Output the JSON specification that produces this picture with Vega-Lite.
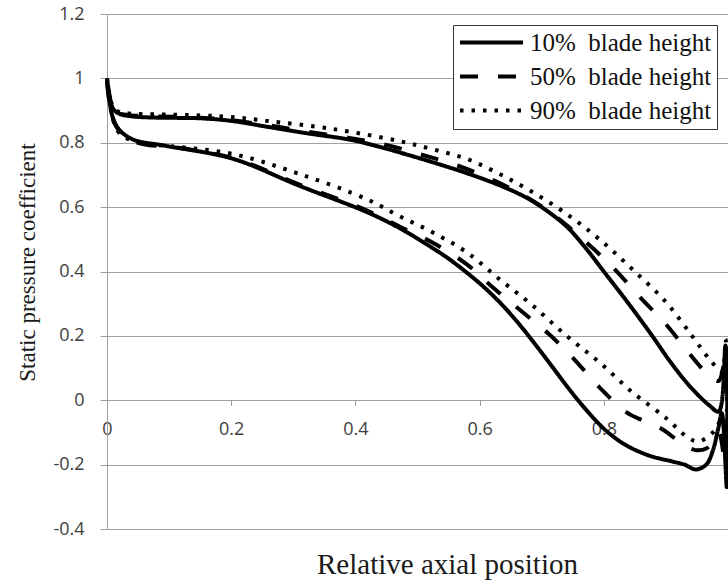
{
  "$schema": "https://vega.github.io/schema/vega-lite/v6.json",
  "width": 621,
  "height": 515,
  "autosize": "none",
  "padding": {"left": 107, "top": 14, "right": 0, "bottom": 53},
  "background": "white",
  "config": {"view": {"stroke": null}},
  "data": {"values": [
    {"s": "10%  blade height", "i": 0, "x": 0, "y": 1.0},
    {"s": "10%  blade height", "i": 1, "x": 0.004, "y": 0.95},
    {"s": "10%  blade height", "i": 2, "x": 0.01, "y": 0.905},
    {"s": "10%  blade height", "i": 3, "x": 0.02, "y": 0.89},
    {"s": "10%  blade height", "i": 4, "x": 0.04, "y": 0.882},
    {"s": "10%  blade height", "i": 5, "x": 0.08, "y": 0.878},
    {"s": "10%  blade height", "i": 6, "x": 0.15, "y": 0.876},
    {"s": "10%  blade height", "i": 7, "x": 0.2, "y": 0.868},
    {"s": "10%  blade height", "i": 8, "x": 0.257, "y": 0.85},
    {"s": "10%  blade height", "i": 9, "x": 0.32, "y": 0.83},
    {"s": "10%  blade height", "i": 10, "x": 0.39, "y": 0.81},
    {"s": "10%  blade height", "i": 11, "x": 0.43, "y": 0.792},
    {"s": "10%  blade height", "i": 12, "x": 0.471, "y": 0.77},
    {"s": "10%  blade height", "i": 13, "x": 0.52, "y": 0.742},
    {"s": "10%  blade height", "i": 14, "x": 0.58, "y": 0.705},
    {"s": "10%  blade height", "i": 15, "x": 0.632, "y": 0.668},
    {"s": "10%  blade height", "i": 16, "x": 0.675, "y": 0.63},
    {"s": "10%  blade height", "i": 17, "x": 0.7, "y": 0.6},
    {"s": "10%  blade height", "i": 18, "x": 0.74, "y": 0.54},
    {"s": "10%  blade height", "i": 19, "x": 0.77, "y": 0.475},
    {"s": "10%  blade height", "i": 20, "x": 0.8, "y": 0.4},
    {"s": "10%  blade height", "i": 21, "x": 0.84, "y": 0.3},
    {"s": "10%  blade height", "i": 22, "x": 0.878, "y": 0.2},
    {"s": "10%  blade height", "i": 23, "x": 0.905, "y": 0.125},
    {"s": "10%  blade height", "i": 24, "x": 0.932, "y": 0.058},
    {"s": "10%  blade height", "i": 25, "x": 0.953, "y": 0.014},
    {"s": "10%  blade height", "i": 26, "x": 0.97, "y": -0.016},
    {"s": "10%  blade height", "i": 27, "x": 0.985, "y": -0.035},
    {"s": "10%  blade height", "i": 28, "x": 0.996, "y": 0.17},
    {"s": "10%  blade height", "i": 29, "x": 0.998, "y": -0.27},
    {"s": "10%  blade height", "i": 30, "x": 0.99, "y": -0.04},
    {"s": "10%  blade height", "i": 31, "x": 0.984, "y": -0.09},
    {"s": "10%  blade height", "i": 32, "x": 0.975, "y": -0.16},
    {"s": "10%  blade height", "i": 33, "x": 0.965, "y": -0.2},
    {"s": "10%  blade height", "i": 34, "x": 0.948, "y": -0.215},
    {"s": "10%  blade height", "i": 35, "x": 0.93, "y": -0.2},
    {"s": "10%  blade height", "i": 36, "x": 0.91, "y": -0.19},
    {"s": "10%  blade height", "i": 37, "x": 0.873, "y": -0.172},
    {"s": "10%  blade height", "i": 38, "x": 0.836, "y": -0.14},
    {"s": "10%  blade height", "i": 39, "x": 0.81, "y": -0.105},
    {"s": "10%  blade height", "i": 40, "x": 0.793, "y": -0.075},
    {"s": "10%  blade height", "i": 41, "x": 0.765, "y": -0.015},
    {"s": "10%  blade height", "i": 42, "x": 0.74, "y": 0.045},
    {"s": "10%  blade height", "i": 43, "x": 0.712, "y": 0.117},
    {"s": "10%  blade height", "i": 44, "x": 0.685, "y": 0.185},
    {"s": "10%  blade height", "i": 45, "x": 0.66, "y": 0.245},
    {"s": "10%  blade height", "i": 46, "x": 0.632, "y": 0.305},
    {"s": "10%  blade height", "i": 47, "x": 0.605, "y": 0.355},
    {"s": "10%  blade height", "i": 48, "x": 0.579, "y": 0.397},
    {"s": "10%  blade height", "i": 49, "x": 0.55, "y": 0.44},
    {"s": "10%  blade height", "i": 50, "x": 0.52, "y": 0.478},
    {"s": "10%  blade height", "i": 51, "x": 0.471, "y": 0.535},
    {"s": "10%  blade height", "i": 52, "x": 0.418, "y": 0.585},
    {"s": "10%  blade height", "i": 53, "x": 0.31, "y": 0.666},
    {"s": "10%  blade height", "i": 54, "x": 0.203, "y": 0.75},
    {"s": "10%  blade height", "i": 55, "x": 0.096, "y": 0.79},
    {"s": "10%  blade height", "i": 56, "x": 0.042, "y": 0.81},
    {"s": "10%  blade height", "i": 57, "x": 0.02, "y": 0.84},
    {"s": "10%  blade height", "i": 58, "x": 0.01, "y": 0.875},
    {"s": "10%  blade height", "i": 59, "x": 0.004, "y": 0.93},
    {"s": "10%  blade height", "i": 60, "x": 0, "y": 1.0},

    {"s": "50%  blade height", "i": 0, "x": 0, "y": 0.99},
    {"s": "50%  blade height", "i": 1, "x": 0.004, "y": 0.93},
    {"s": "50%  blade height", "i": 2, "x": 0.01, "y": 0.9},
    {"s": "50%  blade height", "i": 3, "x": 0.02, "y": 0.89},
    {"s": "50%  blade height", "i": 4, "x": 0.04, "y": 0.885},
    {"s": "50%  blade height", "i": 5, "x": 0.08, "y": 0.882},
    {"s": "50%  blade height", "i": 6, "x": 0.15, "y": 0.878},
    {"s": "50%  blade height", "i": 7, "x": 0.2, "y": 0.87},
    {"s": "50%  blade height", "i": 8, "x": 0.257, "y": 0.855},
    {"s": "50%  blade height", "i": 9, "x": 0.32, "y": 0.835},
    {"s": "50%  blade height", "i": 10, "x": 0.39, "y": 0.815},
    {"s": "50%  blade height", "i": 11, "x": 0.444, "y": 0.796},
    {"s": "50%  blade height", "i": 12, "x": 0.503, "y": 0.765},
    {"s": "50%  blade height", "i": 13, "x": 0.563, "y": 0.73},
    {"s": "50%  blade height", "i": 14, "x": 0.621, "y": 0.685},
    {"s": "50%  blade height", "i": 15, "x": 0.675, "y": 0.632},
    {"s": "50%  blade height", "i": 16, "x": 0.723, "y": 0.57},
    {"s": "50%  blade height", "i": 17, "x": 0.772, "y": 0.49},
    {"s": "50%  blade height", "i": 18, "x": 0.814, "y": 0.414},
    {"s": "50%  blade height", "i": 19, "x": 0.857, "y": 0.323},
    {"s": "50%  blade height", "i": 20, "x": 0.9, "y": 0.236},
    {"s": "50%  blade height", "i": 21, "x": 0.932, "y": 0.159},
    {"s": "50%  blade height", "i": 22, "x": 0.955, "y": 0.105},
    {"s": "50%  blade height", "i": 23, "x": 0.97, "y": 0.075},
    {"s": "50%  blade height", "i": 24, "x": 0.985, "y": 0.06},
    {"s": "50%  blade height", "i": 25, "x": 0.995, "y": 0.12},
    {"s": "50%  blade height", "i": 26, "x": 0.997, "y": -0.22},
    {"s": "50%  blade height", "i": 27, "x": 0.985, "y": -0.1},
    {"s": "50%  blade height", "i": 28, "x": 0.975, "y": -0.13},
    {"s": "50%  blade height", "i": 29, "x": 0.965, "y": -0.15},
    {"s": "50%  blade height", "i": 30, "x": 0.948, "y": -0.155},
    {"s": "50%  blade height", "i": 31, "x": 0.93, "y": -0.14},
    {"s": "50%  blade height", "i": 32, "x": 0.894, "y": -0.09},
    {"s": "50%  blade height", "i": 33, "x": 0.865, "y": -0.065},
    {"s": "50%  blade height", "i": 34, "x": 0.836, "y": -0.037},
    {"s": "50%  blade height", "i": 35, "x": 0.793, "y": 0.04},
    {"s": "50%  blade height", "i": 36, "x": 0.752, "y": 0.128},
    {"s": "50%  blade height", "i": 37, "x": 0.712, "y": 0.205},
    {"s": "50%  blade height", "i": 38, "x": 0.669, "y": 0.274},
    {"s": "50%  blade height", "i": 39, "x": 0.621, "y": 0.351},
    {"s": "50%  blade height", "i": 40, "x": 0.579, "y": 0.423},
    {"s": "50%  blade height", "i": 41, "x": 0.524, "y": 0.49},
    {"s": "50%  blade height", "i": 42, "x": 0.471, "y": 0.54},
    {"s": "50%  blade height", "i": 43, "x": 0.418, "y": 0.59},
    {"s": "50%  blade height", "i": 44, "x": 0.31, "y": 0.67},
    {"s": "50%  blade height", "i": 45, "x": 0.203, "y": 0.752},
    {"s": "50%  blade height", "i": 46, "x": 0.1, "y": 0.788},
    {"s": "50%  blade height", "i": 47, "x": 0.06, "y": 0.795},
    {"s": "50%  blade height", "i": 48, "x": 0.03, "y": 0.82},
    {"s": "50%  blade height", "i": 49, "x": 0.015, "y": 0.85},
    {"s": "50%  blade height", "i": 50, "x": 0.006, "y": 0.9},
    {"s": "50%  blade height", "i": 51, "x": 0, "y": 0.99},

    {"s": "90%  blade height", "i": 0, "x": 0, "y": 1.0},
    {"s": "90%  blade height", "i": 1, "x": 0.004, "y": 0.95},
    {"s": "90%  blade height", "i": 2, "x": 0.01, "y": 0.91},
    {"s": "90%  blade height", "i": 3, "x": 0.02, "y": 0.895},
    {"s": "90%  blade height", "i": 4, "x": 0.04, "y": 0.89},
    {"s": "90%  blade height", "i": 5, "x": 0.08, "y": 0.888},
    {"s": "90%  blade height", "i": 6, "x": 0.15, "y": 0.885},
    {"s": "90%  blade height", "i": 7, "x": 0.2, "y": 0.88},
    {"s": "90%  blade height", "i": 8, "x": 0.257, "y": 0.868},
    {"s": "90%  blade height", "i": 9, "x": 0.363, "y": 0.843},
    {"s": "90%  blade height", "i": 10, "x": 0.471, "y": 0.805},
    {"s": "90%  blade height", "i": 11, "x": 0.524, "y": 0.78},
    {"s": "90%  blade height", "i": 12, "x": 0.579, "y": 0.75},
    {"s": "90%  blade height", "i": 13, "x": 0.632, "y": 0.703},
    {"s": "90%  blade height", "i": 14, "x": 0.685, "y": 0.647},
    {"s": "90%  blade height", "i": 15, "x": 0.74, "y": 0.579},
    {"s": "90%  blade height", "i": 16, "x": 0.793, "y": 0.5},
    {"s": "90%  blade height", "i": 17, "x": 0.846, "y": 0.407},
    {"s": "90%  blade height", "i": 18, "x": 0.9, "y": 0.305},
    {"s": "90%  blade height", "i": 19, "x": 0.942, "y": 0.2},
    {"s": "90%  blade height", "i": 20, "x": 0.97, "y": 0.128},
    {"s": "90%  blade height", "i": 21, "x": 0.99, "y": 0.09},
    {"s": "90%  blade height", "i": 22, "x": 0.996, "y": 0.19},
    {"s": "90%  blade height", "i": 23, "x": 0.997, "y": -0.18},
    {"s": "90%  blade height", "i": 24, "x": 0.99, "y": -0.06},
    {"s": "90%  blade height", "i": 25, "x": 0.98, "y": -0.09},
    {"s": "90%  blade height", "i": 26, "x": 0.97, "y": -0.11},
    {"s": "90%  blade height", "i": 27, "x": 0.953, "y": -0.128},
    {"s": "90%  blade height", "i": 28, "x": 0.937, "y": -0.118},
    {"s": "90%  blade height", "i": 29, "x": 0.9, "y": -0.055},
    {"s": "90%  blade height", "i": 30, "x": 0.846, "y": 0.025},
    {"s": "90%  blade height", "i": 31, "x": 0.793, "y": 0.118},
    {"s": "90%  blade height", "i": 32, "x": 0.74, "y": 0.2},
    {"s": "90%  blade height", "i": 33, "x": 0.685, "y": 0.295},
    {"s": "90%  blade height", "i": 34, "x": 0.632, "y": 0.376},
    {"s": "90%  blade height", "i": 35, "x": 0.579, "y": 0.46},
    {"s": "90%  blade height", "i": 36, "x": 0.524, "y": 0.522},
    {"s": "90%  blade height", "i": 37, "x": 0.471, "y": 0.572},
    {"s": "90%  blade height", "i": 38, "x": 0.418, "y": 0.625},
    {"s": "90%  blade height", "i": 39, "x": 0.31, "y": 0.703},
    {"s": "90%  blade height", "i": 40, "x": 0.203, "y": 0.765},
    {"s": "90%  blade height", "i": 41, "x": 0.1, "y": 0.79},
    {"s": "90%  blade height", "i": 42, "x": 0.05, "y": 0.8},
    {"s": "90%  blade height", "i": 43, "x": 0.02, "y": 0.83},
    {"s": "90%  blade height", "i": 44, "x": 0.01, "y": 0.87},
    {"s": "90%  blade height", "i": 45, "x": 0.004, "y": 0.93},
    {"s": "90%  blade height", "i": 46, "x": 0, "y": 1.0}
  ]},
  "mark": {"type": "line", "color": "black", "strokeWidth": 4, "interpolate": "catmull-rom", "clip": false},
  "encoding": {
    "x": {
      "field": "x", "type": "quantitative",
      "scale": {"domain": [0, 1], "nice": false, "zero": false},
      "axis": {
        "title": "Relative axial position",
        "values": [0, 0.2, 0.4, 0.6, 0.8],
        "labelExpr": "'' + datum.value",
        "offset": -128.75,
        "domain": false,
        "grid": false,
        "ticks": true, "tickSize": 5, "tickColor": "#9a9a9a",
        "labelFont": "Open Sans", "labelFontSize": 18, "labelColor": "#404040",
        "labelPadding": 15, "labelOverlap": false, "labelFlush": false,
        "titleFont": "Liberation Serif", "titleFontSize": 29, "titleFontWeight": "normal", "titleColor": "#1a1a1a",
        "titleX": 340, "titleY": 150, "titleBaseline": "top"
      }
    },
    "y": {
      "field": "y", "type": "quantitative",
      "scale": {"domain": [-0.4, 1.2], "nice": false, "zero": false},
      "axis": {
        "title": "Static pressure coefficient",
        "values": [-0.4, -0.2, 0, 0.2, 0.4, 0.6, 0.8, 1, 1.2],
        "labelExpr": "'' + datum.value",
        "grid": true, "gridColor": "#a0a0a0", "gridWidth": 1,
        "domain": true, "domainColor": "#a0a0a0",
        "ticks": true, "tickSize": 7, "tickColor": "#a0a0a0",
        "labelFont": "Open Sans", "labelFontSize": 18, "labelColor": "#404040",
        "labelPadding": 16, "labelOverlap": false, "labelFlush": false,
        "titleFont": "Liberation Serif", "titleFontSize": 23, "titleFontWeight": "normal", "titleColor": "#1a1a1a",
        "titleX": -80, "titleY": 248, "titleAlign": "center", "titleBaseline": "middle", "titleAngle": 270
      }
    },
    "order": {"field": "i", "type": "quantitative"},
    "strokeDash": {
      "field": "s", "type": "nominal",
      "scale": {
        "domain": ["10%  blade height", "50%  blade height", "90%  blade height"],
        "range": [[1, 0], [18, 20], [3.5, 8]]
      },
      "legend": {
        "title": null,
        "orient": "none", "legendX": 346, "legendY": 11,
        "labelExpr": "replace(datum.label, '  ', '\u00a0 ')",
        "symbolType": "M-1,0H5", "symbolSize": 441, "symbolStrokeWidth": 4, "symbolStrokeColor": "black",
        "labelFont": "Liberation Serif", "labelFontSize": 25, "labelColor": "#111", "labelLimit": 400,
        "labelOffset": 47, "rowPadding": 8,
        "strokeColor": "#333", "fillColor": "white", "padding": 5
      }
    }
  }
}
